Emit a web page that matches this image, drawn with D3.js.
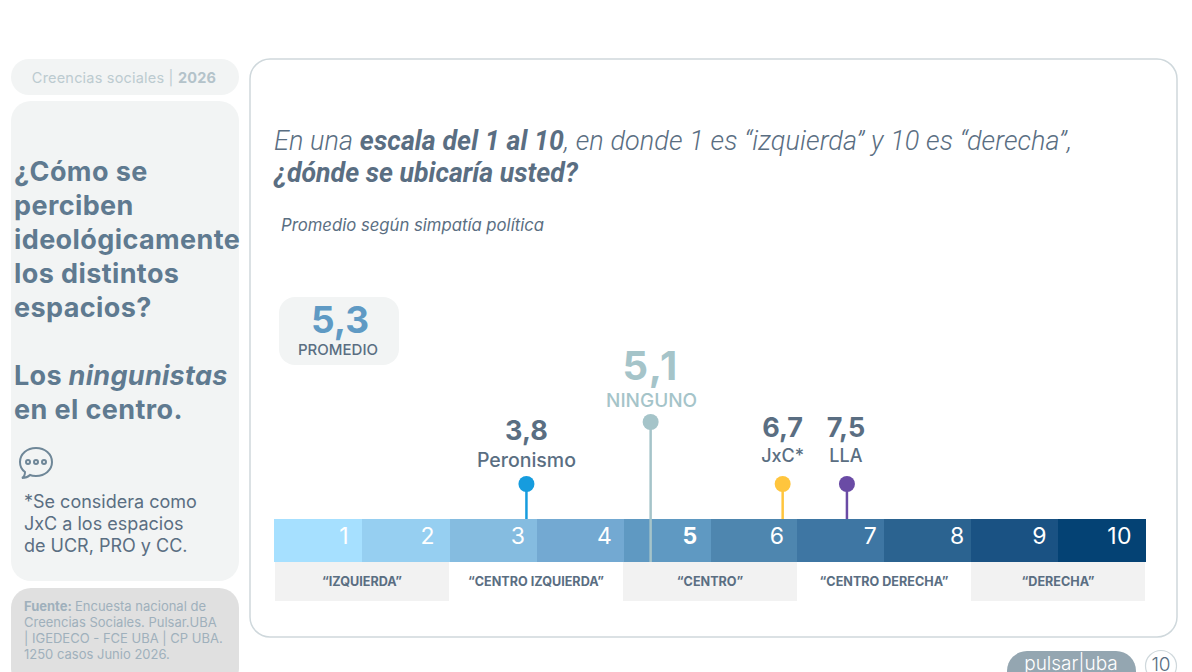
<!DOCTYPE html>
<html>
<head>
<meta charset="utf-8">
<script src="https://cdn.jsdelivr.net/npm/d3@7"></script>
<style>
  html, body { margin: 0; padding: 0; background: #fff; }
  svg { display: block; font-family: Inter, sans-serif; }
</style>
</head>
<body>
<div id="chart"></div>
<script>
// scale cells
var scaleLabels = ["1", "2", "3", "4", "5", "6", "7", "8", "9", "10"];
var scaleColors = ["#A6E0FF", "#96CFF1", "#85BCE0", "#73A9D2", "#5F99C2", "#4E86AF", "#3E76A3", "#2B6390", "#1A5283", "#044274"];

// bands under the scale
var bandLabels = ["“IZQUIERDA”", "“CENTRO IZQUIERDA”", "“CENTRO”", "“CENTRO DERECHA”", "“DERECHA”"];

// spaces: name, average, place on the ruler (in cells from the left edge)
var spaceNames = ["Peronismo", "NINGUNO", "JxC*", "LLA"];
var spaceValues = [3.8, 5.1, 6.7, 7.5];
var spaceRuler = [2.88, 4.31, 5.83, 6.57];
var spaceColors = ["#169CDE", "#A5C4C9", "#FFC53D", "#6A4BA5"];

var average = 5.3;
var comma = function(v) { return v.toFixed(1).replace(".", ","); };

var svg = d3.select("#chart").append("svg").attr("width", 1192).attr("height", 672);
var ink = "#5A6E82";

// sidebar
svg.append("rect").attr("x", 11).attr("y", 59).attr("width", 228).attr("height", 36).attr("rx", 18).attr("fill", "#F2F4F4");
svg.append("rect").attr("x", 11).attr("y", 101).attr("width", 228).attr("height", 480).attr("rx", 20).attr("fill", "#F2F4F4");
svg.append("rect").attr("x", 11).attr("y", 588).attr("width", 228).attr("height", 100).attr("rx", 20).attr("fill", "#E0E0E0");

var pill = svg.append("text").attr("x", 124).attr("y", 83).attr("text-anchor", "middle")
    .attr("font-size", 14.5).attr("letter-spacing", 0.2).attr("fill", "#BCCBD0");
pill.append("tspan").text("Creencias sociales | ");
pill.append("tspan").attr("font-weight", 700).attr("fill", "#B4C3CA").text("2026");

var sideTitle = ["¿Cómo se", "perciben", "ideológicamente", "los distintos", "espacios?"];
svg.selectAll("text.side").data(sideTitle).join("text").attr("class", "side")
    .attr("x", 14).attr("y", function(d, i) { return 181 + i * 34; })
    .attr("font-size", 27).attr("font-weight", 700).attr("letter-spacing", 0.4).attr("fill", "#5F7A90").text(function(d) { return d; });

var los = svg.append("text").attr("x", 14).attr("y", 385).attr("font-size", 27).attr("font-weight", 700).attr("letter-spacing", 0.3).attr("fill", "#5F7A90");
los.append("tspan").text("Los ");
los.append("tspan").attr("font-style", "italic").text("ningunistas");
svg.append("text").attr("x", 14).attr("y", 419).attr("font-size", 27).attr("font-weight", 700).attr("letter-spacing", 0.4).attr("fill", "#5F7A90").text("en el centro.");

// speech bubble
var bubble = svg.append("g").attr("fill", "none").attr("stroke", "#6F8798").attr("stroke-width", 2);
bubble.append("path").attr("d", "M36 448c-9 0-16 6-16 14 0 4 2 8 5 10 0 3-1 5-3 6 3 0 6-1 8-3 2 1 4 1 6 1 9 0 16-6 16-14s-7-14-16-14z");
[28, 36, 44].forEach(function(cx) {
  bubble.append("circle").attr("cx", cx).attr("cy", 462).attr("r", 2);
});

var note = ["*Se considera como", "JxC a los espacios", "de UCR, PRO y CC."];
svg.selectAll("text.note").data(note).join("text").attr("class", "note")
    .attr("x", 24).attr("y", function(d, i) { return 508 + i * 22; })
    .attr("font-size", 18).attr("fill", ink).text(function(d) { return d; });

var source = ["Encuesta nacional de", "Creencias Sociales. Pulsar.UBA", "| IGEDECO - FCE UBA | CP UBA.", "1250 casos Junio 2026."];
svg.selectAll("text.source").data(source).join("text").attr("class", "source")
    .attr("x", function(d, i) { return i === 0 ? 75 : 24; }).attr("y", function(d, i) { return 611 + i * 16; })
    .attr("font-size", 13).attr("fill", "#9FB0BC").text(function(d) { return d; });
svg.append("text").attr("x", 24).attr("y", 611).attr("font-size", 13).attr("font-weight", 700).attr("fill", "#9FB0BC").text("Fuente:");

// main panel
svg.append("rect").attr("x", 250).attr("y", 59).attr("width", 927).attr("height", 578).attr("rx", 20)
    .attr("fill", "#fff").attr("stroke", "#CFD8DC").attr("stroke-width", 1.5);

var head = svg.append("text").attr("x", 274).attr("y", 150)
    .attr("font-family", "Roboto").attr("font-style", "italic").attr("font-size", 27).attr("font-weight", 300).attr("letter-spacing", 0.1).attr("fill", ink);
head.append("tspan").text("En una ");
head.append("tspan").attr("font-weight", 700).attr("font-size", 26.7).text("escala del 1 al 10");
head.append("tspan").text(", en donde 1 es “izquierda” y 10 es “derecha”,");
svg.append("text").attr("x", 274).attr("y", 182)
    .attr("font-family", "Roboto").attr("font-style", "italic").attr("font-size", 26.7).attr("font-weight", 700).attr("fill", ink)
    .text("¿dónde se ubicaría usted?");
svg.append("text").attr("x", 281).attr("y", 231).attr("font-style", "italic").attr("font-size", 16.7).attr("fill", ink)
    .text("Promedio según simpatía política");

// average box
svg.append("rect").attr("x", 279).attr("y", 297).attr("width", 120).attr("height", 68).attr("rx", 16).attr("fill", "#F2F4F4");
svg.append("text").attr("x", 340).attr("y", 333).attr("text-anchor", "middle").attr("font-size", 37).attr("font-weight", 700)
    .attr("fill", "#5F9AC4").text(comma(average));
svg.append("text").attr("x", 338).attr("y", 355).attr("text-anchor", "middle").attr("font-size", 15).attr("font-weight", 500)
    .attr("fill", ink).text("PROMEDIO");

// ruler
var x = d3.scaleLinear().domain([0, 2, 9, 10]).range([274, 450, 1058, 1146]);
var band = d3.scaleLinear().domain([0, 5]).range([275, 1145]);
var rulerTop = 519, rulerBottom = 562, bandBottom = 601;
var labelGap = [13, 15, 11.5, 11.5, 13, 13, 7, 6.5, 11, 14];

svg.selectAll("rect.cell").data(scaleLabels).join("rect").attr("class", "cell")
    .attr("x", function(d, i) { return Math.round(x(i)); }).attr("y", rulerTop)
    .attr("width", function(d, i) { return Math.round(x(i + 1)) - Math.round(x(i)); }).attr("height", rulerBottom - rulerTop)
    .attr("fill", function(d, i) { return scaleColors[i]; });

svg.selectAll("text.cell").data(scaleLabels).join("text").attr("class", "cell")
    .attr("x", function(d, i) { return x(i + 1) - labelGap[i]; }).attr("y", 544)
    .attr("text-anchor", "end").attr("font-size", 23).attr("letter-spacing", 0.4).attr("fill", "#fff")
    .attr("font-weight", function(d) { return d === "5" ? 700 : 400; }).text(function(d) { return d; });

svg.selectAll("rect.band").data(bandLabels).join("rect").attr("class", "band")
    .attr("x", function(d, i) { return band(i); }).attr("y", rulerBottom)
    .attr("width", function(d, i) { return band(i + 1) - band(i); }).attr("height", bandBottom - rulerBottom)
    .attr("fill", function(d, i) { return i % 2 ? "#fff" : "#F2F2F2"; });

svg.selectAll("text.band").data(bandLabels).join("text").attr("class", "band")
    .attr("x", function(d, i) { return band(i + 0.5); }).attr("y", 586)
    .attr("text-anchor", "middle").attr("font-size", 12.6).attr("font-weight", 700).attr("fill", ink)
    .text(function(d) { return d; });

// markers
spaceNames.forEach(function(name, i) {
  var big = name === "NINGUNO";
  var px = x(spaceRuler[i]);
  var dotY = big ? 422 : 484;
  svg.append("line").attr("x1", px).attr("x2", px).attr("y1", dotY).attr("y2", big ? rulerBottom : rulerTop)
      .attr("stroke", spaceColors[i]).attr("stroke-width", 2.5);
  svg.append("circle").attr("cx", px).attr("cy", dotY).attr("r", 8).attr("fill", spaceColors[i]);
  svg.append("text").attr("x", i === 3 ? px - 1 : px).attr("y", big ? 380 : (i === 0 ? 440 : 437)).attr("text-anchor", "middle")
      .attr("font-size", big ? 40 : 27).attr("font-weight", 700).attr("letter-spacing", big ? 1.5 : 0)
      .attr("fill", big ? spaceColors[i] : ink).text(comma(spaceValues[i]));
  svg.append("text").attr("x", big ? px + 1 : (i === 3 ? px - 1 : px)).attr("y", big ? 407 : (i === 0 ? 467 : 462)).attr("text-anchor", "middle")
      .attr("font-size", i === 0 ? 19.5 : (big ? 19 : 18)).attr("font-weight", 500).attr("fill", big ? spaceColors[i] : ink)
      .text(name);
});

// logo and page number
svg.append("rect").attr("x", 1007).attr("y", 651).attr("width", 129).attr("height", 40).attr("rx", 20).attr("fill", "#94A6B1");
svg.append("text").attr("x", 1071).attr("y", 670).attr("text-anchor", "middle").attr("font-size", 19).attr("font-weight", 300)
    .attr("fill", "#fff").text("pulsar|uba");
svg.append("circle").attr("cx", 1161).attr("cy", 666).attr("r", 15.5).attr("fill", "#fff").attr("stroke", "#CFD8DC").attr("stroke-width", 1.2);
svg.append("text").attr("x", 1161).attr("y", 671).attr("text-anchor", "middle").attr("font-size", 19).attr("font-weight", 300)
    .attr("fill", ink).text("10");
</script>
</body>
</html>
